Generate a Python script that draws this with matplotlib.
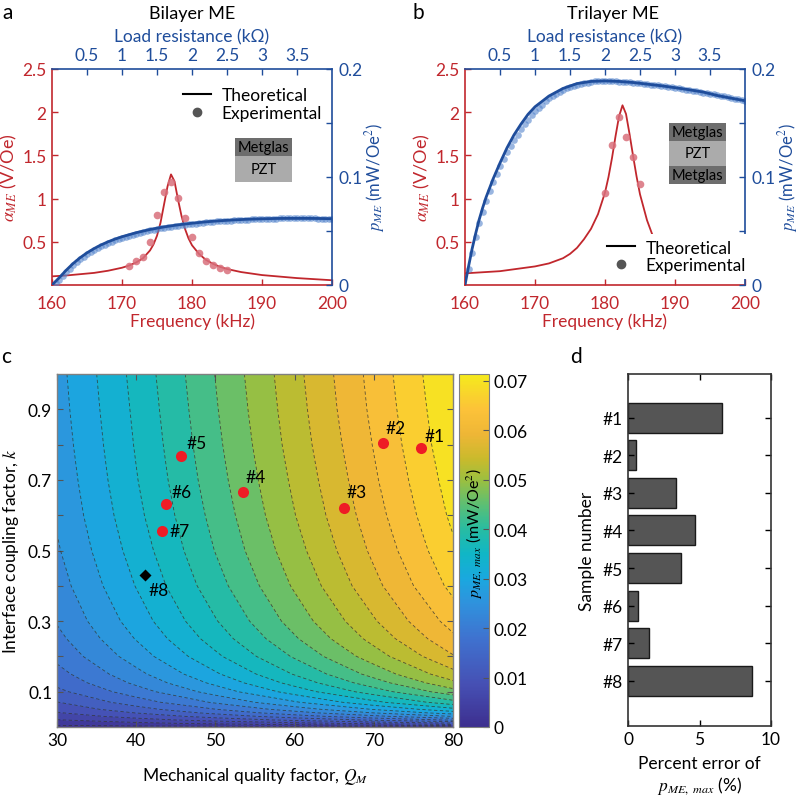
import numpy as np
import matplotlib
matplotlib.use("Agg")
import matplotlib.pyplot as plt
from matplotlib.colors import LinearSegmentedColormap, Normalize
from matplotlib.cm import ScalarMappable
from matplotlib.lines import Line2D
from matplotlib.patches import Rectangle

plt.rcParams['font.family'] = ['Lato', 'DejaVu Sans']
plt.rcParams['mathtext.fontset'] = 'stix'
plt.rcParams['font.size'] = 12
plt.rcParams['xtick.direction'] = 'in'
plt.rcParams['ytick.direction'] = 'in'

# ---- panel a: bilayer ----
fa_th = [160, 162, 164, 166, 168, 170, 171, 172, 173, 174, 174.5, 175, 175.5, 176, 176.5,
         177, 177.5, 178, 178.5, 179, 179.5, 180, 181, 182, 183, 184, 185, 187, 190, 195, 200]
aa_th = [0.10, 0.11, 0.125, 0.14, 0.165, 0.20, 0.225, 0.26, 0.31, 0.40, 0.47, 0.57, 0.72, 0.93, 1.14,
         1.28, 1.20, 0.99, 0.80, 0.65, 0.54, 0.46, 0.36, 0.29, 0.245, 0.21, 0.185, 0.15, 0.115, 0.08, 0.055]
fa_ex = [171, 172, 173, 174, 175, 176, 177, 178, 179, 180, 181, 182, 183, 184, 185]
aa_ex = [0.22, 0.28, 0.325, 0.50, 0.81, 1.08, 1.19, 1.01, 0.78, 0.56, 0.375, 0.28, 0.23, 0.195, 0.175]

ra_th = [0, 0.1, 0.2, 0.3, 0.4, 0.5, 0.6, 0.7, 0.8, 0.9, 1.0, 1.2, 1.4, 1.6, 1.8, 2.0,
         2.2, 2.4, 2.6, 2.8, 3.0, 3.2, 3.4, 3.6, 3.8, 4.0]
pa_th = [0, 0.0065, 0.0135, 0.0198, 0.0252, 0.0298, 0.0337, 0.0371, 0.0400, 0.0425, 0.0447,
         0.0484, 0.0514, 0.0538, 0.0557, 0.0572, 0.0585, 0.0595, 0.0603, 0.0609, 0.0613,
         0.0616, 0.0617, 0.0617, 0.0616, 0.0614]
pa_ex = [0.0020, 0.0050, 0.0085, 0.0120, 0.0152, 0.0183, 0.0212, 0.0238, 0.0262, 0.0284,
         0.0305, 0.0324, 0.0342, 0.0358, 0.0374, 0.0388, 0.0402, 0.0414, 0.0426, 0.0437,
         0.0447, 0.0457, 0.0466, 0.0475, 0.0483, 0.0491, 0.0498, 0.0505, 0.0512, 0.0518,
         0.0524, 0.0530, 0.0535, 0.0540, 0.0545, 0.0550, 0.0554, 0.0558, 0.0562, 0.0566,
         0.0569, 0.0573, 0.0576, 0.0579, 0.0582, 0.0585, 0.0588, 0.0590, 0.0593, 0.0595,
         0.0597, 0.0599, 0.0601, 0.0603, 0.0605, 0.0606, 0.0608, 0.0609, 0.0610, 0.0612,
         0.0613, 0.0614, 0.0614, 0.0615, 0.0616, 0.0616, 0.0617, 0.0617, 0.0617, 0.0618,
         0.0617, 0.0617, 0.0617, 0.0616, 0.0616, 0.0615, 0.0615, 0.0614, 0.0613, 0.0612]

# ---- panel b: trilayer ----
fb_th = [160, 165, 170, 172, 174, 175, 176, 177, 178, 179, 180, 180.5, 181, 181.5, 182, 182.5,
         183, 183.5, 184, 184.5, 185, 186, 187, 188, 189, 190, 192, 195, 200]
ab_th = [0.135, 0.16, 0.215, 0.25, 0.31, 0.36, 0.43, 0.53, 0.65, 0.82, 1.07, 1.25, 1.47, 1.72, 1.95, 2.08,
         1.98, 1.75, 1.50, 1.26, 1.05, 0.75, 0.53, 0.40, 0.32, 0.27, 0.22, 0.18, 0.14]
fb_ex = [180, 181, 182, 183, 184, 185]
ab_ex = [1.07, 1.62, 1.94, 1.715, 1.476, 1.167]

rb_th = [0, 0.05, 0.1, 0.15, 0.2, 0.25, 0.3, 0.4, 0.5, 0.6, 0.7, 0.8, 0.9, 1.0, 1.2, 1.4, 1.6,
         1.8, 2.0, 2.2, 2.4, 2.6, 2.8, 3.0, 3.2, 3.4, 3.6, 3.8, 4.0]
pb_th = [0, 0.017, 0.033, 0.047, 0.060, 0.071, 0.081, 0.098, 0.113, 0.127, 0.139, 0.149, 0.158,
         0.165, 0.175, 0.182, 0.1865, 0.1885, 0.189, 0.1885, 0.1875, 0.186, 0.1845, 0.1827,
         0.1808, 0.1787, 0.1755, 0.1730, 0.1706]
pb_ex = [0.015, 0.030, 0.044, 0.057, 0.068, 0.078, 0.087, 0.095, 0.103, 0.110,
         0.117, 0.123, 0.129, 0.134, 0.139, 0.144, 0.149, 0.153, 0.157, 0.161,
         0.164, 0.167, 0.170, 0.173, 0.175, 0.177, 0.179, 0.181, 0.182, 0.183,
         0.184, 0.185, 0.186, 0.187, 0.1875, 0.188, 0.1885, 0.189, 0.189, 0.189,
         0.189, 0.1888, 0.1886, 0.1884, 0.1882, 0.188, 0.1877, 0.1874, 0.1871, 0.1868,
         0.1864, 0.186, 0.1856, 0.1852, 0.1848, 0.1844, 0.184, 0.1835, 0.183, 0.1825,
         0.182, 0.1815, 0.181, 0.1805, 0.18, 0.1794, 0.1788, 0.1782, 0.1776, 0.177,
         0.1764, 0.1758, 0.1752, 0.1746, 0.174, 0.1733, 0.1726, 0.1719, 0.1712, 0.1705]
r_ex = np.arange(1, 81) * 0.05   # load resistance steps of the measurement (kOhm)

# ---- panel c: p_ME,max map ----
q_grid = [30, 40, 50, 60, 70, 80]
k_grid = [0, 0.005, 0.01, 0.02, 0.03, 0.04, 0.05, 0.07, 0.1, 0.125, 0.15, 0.2, 0.25, 0.3,
          0.4, 0.5, 0.6, 0.7, 0.8, 0.9, 1.0]
p_grid = [
    [0, 0, 0, 0, 0, 0],
    [0.0012, 0.0019, 0.0026, 0.0035, 0.0045, 0.0056],
    [0.0023, 0.0036, 0.0050, 0.0066, 0.0084, 0.0104],
    [0.0043, 0.0065, 0.0091, 0.0119, 0.0150, 0.0183],
    [0.0060, 0.0090, 0.0124, 0.0162, 0.0202, 0.0245],
    [0.0075, 0.0112, 0.0153, 0.0197, 0.0245, 0.0294],
    [0.0088, 0.0131, 0.0177, 0.0227, 0.0280, 0.0335],
    [0.0110, 0.0161, 0.0216, 0.0274, 0.0336, 0.0399],
    [0.0136, 0.0196, 0.0259, 0.0326, 0.0395, 0.0465],
    [0.0153, 0.0218, 0.0286, 0.0357, 0.0430, 0.0504],
    [0.0166, 0.0235, 0.0307, 0.0381, 0.0457, 0.0534],
    [0.0187, 0.0261, 0.0338, 0.0416, 0.0496, 0.0576],
    [0.0202, 0.0280, 0.0360, 0.0441, 0.0523, 0.0605],
    [0.0214, 0.0294, 0.0376, 0.0459, 0.0542, 0.0626],
    [0.0230, 0.0313, 0.0398, 0.0483, 0.0569, 0.0655],
    [0.0241, 0.0326, 0.0413, 0.0499, 0.0586, 0.0673],
    [0.0249, 0.0336, 0.0423, 0.0511, 0.0598, 0.0686],
    [0.0255, 0.0343, 0.0431, 0.0519, 0.0607, 0.0695],
    [0.0260, 0.0348, 0.0437, 0.0526, 0.0614, 0.0703],
    [0.0264, 0.0352, 0.0442, 0.0531, 0.0620, 0.0708],
    [0.0267, 0.0356, 0.0446, 0.0535, 0.0624, 0.0713],
]
sample_names = ['#1', '#2', '#3', '#4', '#5', '#6', '#7', '#8']
sample_q = [75.9, 71.2, 66.2, 53.5, 45.7, 43.8, 43.2, 41.1]
sample_k = [0.79, 0.804, 0.619, 0.666, 0.769, 0.631, 0.555, 0.43]

# ---- panel d: percent error ----
pct_error = [6.6, 0.55, 3.35, 4.72, 3.68, 0.72, 1.48, 8.68]

RED = '#c1272d'
RED_PT = '#d9707c'
BLUE = '#1f4d9b'
BLUE_PT = '#5585cc'
FS = 12.5

W, H = 800, 803
fig = plt.figure(figsize=(W / 100, H / 100), dpi=100)


def px_rect(l, t, r, b):
    return [l / W, 1 - b / H, (r - l) / W, (b - t) / H]


def me_panel(rect, f_th, a_th, f_ex, a_ex, r_th, p_th, p_ex, layers, box_x, box_top,
             leg_loc, leg_anchor, leg_frame, title, title_x):
    ax = fig.add_axes(rect)
    ax.plot(f_th, a_th, color=RED, lw=1.3, zorder=2)
    ax.plot(f_ex, a_ex, 'o', color=RED_PT, ms=5.5, mec='none', alpha=0.85, zorder=3)
    ax.set_xlim(160, 200)
    ax.set_ylim(0, 2.5)
    ax.set_xticks([160, 170, 180, 190, 200])
    ax.set_yticks([0.5, 1, 1.5, 2, 2.5])
    ax.set_yticklabels(['0.5', '1', '1.5', '2', '2.5'])
    ax.tick_params(colors=RED, labelsize=FS, length=4, width=1, pad=4)
    ax.tick_params(axis='x', pad=7)
    for s in ['left', 'bottom']:
        ax.spines[s].set_color(RED)
        ax.spines[s].set_linewidth(1.2)
    for s in ['top', 'right']:
        ax.spines[s].set_visible(False)
    ax.set_xlabel('Frequency (kHz)', color=RED, fontsize=FS, labelpad=1)
    ax.set_ylabel(r'$\alpha_{ME}$ (V/Oe)', color=RED, fontsize=13, labelpad=2)

    axp = fig.add_axes(rect, label=title)
    axp.patch.set_visible(False)
    axp.xaxis.tick_top()
    axp.xaxis.set_label_position('top')
    axp.yaxis.tick_right()
    axp.yaxis.set_label_position('right')
    for s in ['left', 'bottom']:
        axp.spines[s].set_visible(False)
    for s in ['top', 'right']:
        axp.spines[s].set_color(BLUE)
        axp.spines[s].set_linewidth(1.2)
    axp.plot(r_ex, p_ex, 'o', color=BLUE_PT, ms=4.8, mec='none', alpha=0.6)
    axp.plot(r_th, p_th, color=BLUE, lw=2.0)
    axp.set_xlim(0, 4.0)
    axp.set_ylim(0, 0.2)
    axp.set_xticks([0.5, 1, 1.5, 2, 2.5, 3, 3.5])
    axp.set_xticklabels(['0.5', '1', '1.5', '2', '2.5', '3', '3.5'])
    axp.set_yticks([0, 0.05, 0.1, 0.15, 0.2])
    axp.set_yticklabels(['0', '', '0.1', '', '0.2'])
    axp.tick_params(colors=BLUE, labelsize=FS, length=4, width=1, pad=4)
    axp.tick_params(axis='y', pad=5)
    axp.set_xlabel('Load resistance (k\u03a9)', color=BLUE, fontsize=FS, labelpad=4)
    axp.set_ylabel(r'$p_{ME}$ (mW/Oe$^2$)', color=BLUE, fontsize=12, labelpad=0)

    # layer stack sketch
    y = box_top
    for name, col, h in layers:
        axp.add_patch(Rectangle((box_x[0], y - h), box_x[1] - box_x[0], h, transform=axp.transAxes,
                                facecolor=col, edgecolor='none', zorder=5))
        axp.text((box_x[0] + box_x[1]) / 2, y - h / 2, name, transform=axp.transAxes,
                 ha='center', va='center', fontsize=10.5, zorder=6)
        y -= h

    handles = [Line2D([], [], color='k', lw=1.5),
               Line2D([], [], ls='none', marker='o', color='#555555', ms=6)]
    leg = axp.legend(handles, ['Theoretical', 'Experimental'], loc=leg_loc, bbox_to_anchor=leg_anchor,
                     fontsize=FS, frameon=leg_frame, handlelength=1.6, handletextpad=0.6,
                     labelspacing=0.1, borderpad=0.3, borderaxespad=0.0, framealpha=1)
    if leg_frame:
        leg.get_frame().set_edgecolor('none')
        leg.get_frame().set_boxstyle('square', pad=0.0)
    leg.set_zorder(10)
    fig.text(title_x / W, 1 - 14 / H, title, ha='center', va='center', fontsize=13)
    return ax, axp


me_panel(px_rect(52, 70, 332, 286), fa_th, aa_th, fa_ex, aa_ex, ra_th, pa_th, pa_ex,
         [('Metglas', '#6d6d6d', 0.084), ('PZT', '#ababab', 0.12)], (0.654, 0.857), 0.681,
         'upper left', (0.45, 0.94), False, 'Bilayer ME', 192)
me_panel(px_rect(465, 70, 745, 286), fb_th, ab_th, fb_ex, ab_ex, rb_th, pb_th, pb_ex,
         [('Metglas', '#6d6d6d', 0.083), ('PZT', '#ababab', 0.116), ('Metglas', '#6d6d6d', 0.083)],
         (0.729, 0.932), 0.75, 'lower left', (0.49, 0.03), True, 'Trilayer ME', 613)

# ---- panel c ----
parula_like = LinearSegmentedColormap.from_list('parula_like', [
    (0.00, '#3d2f8f'), (0.12, '#4650b4'), (0.25, '#3f72cf'), (0.35, '#2f92dd'),
    (0.42, '#1aa8df'), (0.49, '#10b6c6'), (0.56, '#27bca2'), (0.63, '#5cbf74'),
    (0.70, '#9bbf40'), (0.76, '#c9ba2c'), (0.83, '#eeb636'), (0.90, '#fcc239'),
    (1.00, '#f5ea1c')])
norm = Normalize(0, 0.0714)
line_levels = 0.0011 + 0.00334 * np.arange(21)
fill_levels = np.concatenate([[0], line_levels, [0.0714]])

axc = fig.add_axes(px_rect(57, 375, 453, 728))
axc.contourf(q_grid, k_grid, p_grid, levels=fill_levels, cmap=parula_like, norm=norm)
axc.contour(q_grid, k_grid, p_grid, levels=line_levels, colors='#333333', linewidths=0.6,
            linestyles=[(0, (4, 3))], alpha=0.8)
axc.plot(sample_q[:7], sample_k[:7], 'o', color='#ee1c25', ms=8, mec='none', zorder=4)
axc.plot(sample_q[7:], sample_k[7:], 'D', color='k', ms=6, mec='none', zorder=4)
label_offsets = [(10, 9), (9, 11), (9, 12), (9, 11), (11, 9), (11, 9), (13, 0), (10, -11)]
for name, q, k, off in zip(sample_names, sample_q, sample_k, label_offsets):
    axc.annotate(name, (q, k), xytext=off, textcoords='offset points', ha='center', va='center',
                 fontsize=FS, zorder=5)
axc.set_xlim(30, 80)
axc.set_ylim(0, 1)
axc.set_xticks([30, 40, 50, 60, 70, 80])
axc.set_yticks(np.arange(1, 10) / 10)
axc.set_yticklabels(['0.1', '', '0.3', '', '0.5', '', '0.7', '', '0.9'])
axc.tick_params(labelsize=FS, length=4, width=0.8, top=True, right=True, color='#555555')
for s in axc.spines.values():
    s.set_color('#808080')
    s.set_linewidth(1.0)
axc.set_xlabel(r'Mechanical quality factor, $Q_M$', fontsize=FS, labelpad=12)
axc.set_ylabel(r'Interface coupling factor, $k$', fontsize=FS, labelpad=5)

cax = fig.add_axes(px_rect(459, 375, 489, 728))
cb = fig.colorbar(ScalarMappable(norm=norm, cmap=parula_like), cax=cax)
cb.set_ticks([0, 0.01, 0.02, 0.03, 0.04, 0.05, 0.06, 0.07])
cb.set_ticklabels(['0', '0.01', '0.02', '0.03', '0.04', '0.05', '0.06', '0.07'])
cax.tick_params(direction='in', length=4, labelsize=FS, color='#555555')
cb.outline.set_edgecolor('#808080')
cax.text(0.5, 0.55, r'$p_{ME,\ max}$ (mW/Oe$^2$)', rotation=90, transform=cax.transAxes,
         ha='center', va='center', fontsize=11.5)

# ---- panel d ----
axd = fig.add_axes(px_rect(628, 375, 771, 727))
pos = np.arange(1, len(pct_error) + 1)
axd.barh(pos, pct_error, height=0.8, color='#555555', edgecolor='#1a1a1a', linewidth=1.0)
axd.set_xlim(0, 10)
axd.set_ylim(9.2, -0.16)
axd.set_xticks([0, 5, 10])
axd.set_yticks(pos)
axd.set_yticklabels(sample_names)
axd.tick_params(labelsize=FS, length=4, width=1, top=True, right=True)
for s in axd.spines.values():
    s.set_color('#333333')
    s.set_linewidth(1.2)
axd.set_ylabel('Sample number', fontsize=FS, labelpad=6)
axd.set_xlabel('Percent error of\n' + r'$p_{ME,\ max}$ (%)', fontsize=FS, labelpad=6)

for letter, x, y in [('a', 8, 13), ('b', 418, 13), ('c', 6, 357), ('d', 576, 357)]:
    fig.text(x / W, 1 - y / H, letter, ha='center', va='center', fontsize=15)

fig.savefig('out.png', dpi=100)
